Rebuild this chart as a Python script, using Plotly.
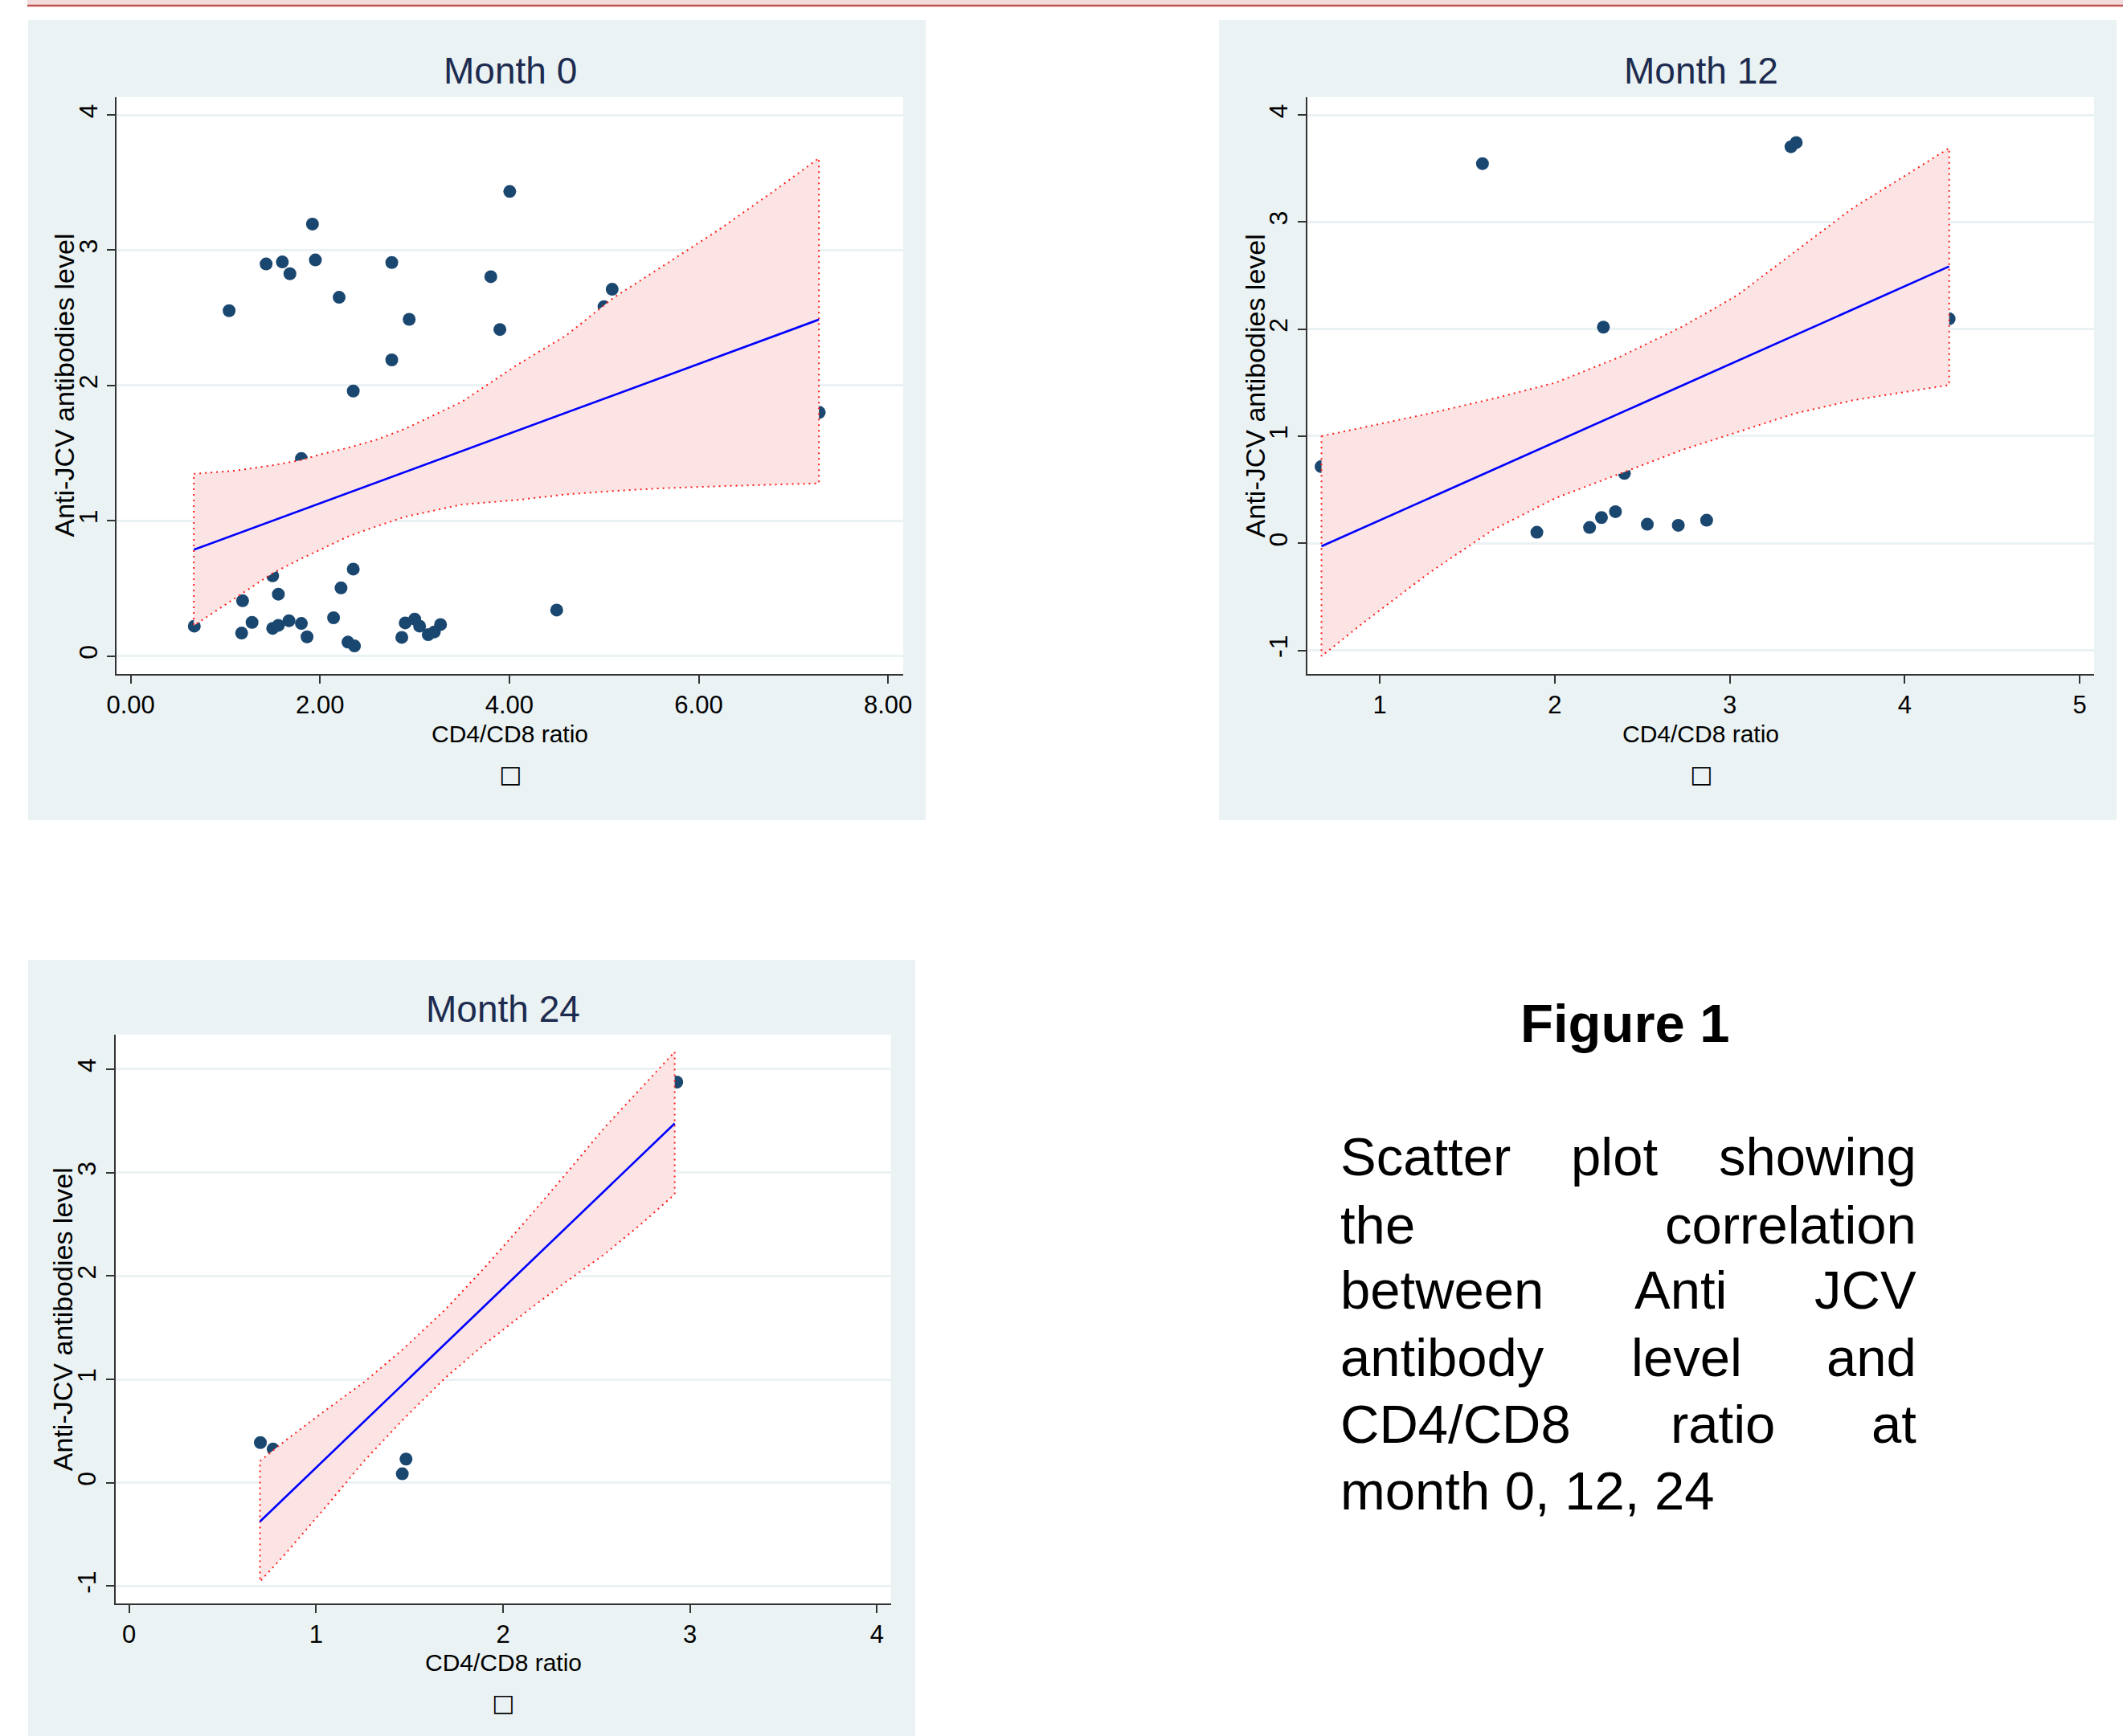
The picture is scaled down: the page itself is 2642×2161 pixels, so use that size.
import plotly.graph_objects as go

W, H = 2642, 2161

# ---------------- data ----------------
# Month 0
m0_x = [0.672, 1.172, 1.282, 1.182, 1.50, 1.56, 1.56, 1.50, 1.672, 1.803, 1.863, 1.803,
        2.143, 2.222, 2.351, 2.295, 2.364, 2.351, 2.864, 2.90, 3.00, 3.052, 3.143, 3.207,
        3.273, 4.50, 1.040, 1.431, 1.602, 1.682, 1.920, 1.951, 2.202, 2.758, 2.758, 2.942,
        3.804, 3.900, 4.004, 5.000, 5.086, 7.273]
m0_y = [0.221, 0.170, 0.249, 0.409, 0.205, 0.227, 0.457, 0.593, 0.261, 0.241, 0.142, 1.460,
        0.283, 0.504, 0.643, 0.103, 0.075, 1.959, 0.138, 0.245, 0.273, 0.221, 0.158, 0.178,
        0.233, 0.340, 2.553, 2.898, 2.913, 2.826, 3.193, 2.928, 2.652, 2.909, 2.189, 2.489,
        2.804, 2.414, 3.434, 2.583, 2.711, 1.801]
m0_fit_x = [0.667, 7.27]
m0_fit_y = [0.786, 2.487]
m0_ci_x = [0.667, 1.1, 1.5, 1.8, 2.0, 2.3, 2.6, 2.9, 3.5, 4.1, 4.6, 5.1, 5.6, 6.2, 6.8, 7.27]
m0_ci_hi = [1.347, 1.37, 1.41, 1.448, 1.49, 1.54, 1.60, 1.68, 1.88, 2.16, 2.37, 2.648, 2.873, 3.145, 3.44, 3.68]
m0_ci_lo = [0.225, 0.425, 0.613, 0.72, 0.785, 0.885, 0.96, 1.03, 1.12, 1.155, 1.195, 1.22, 1.24, 1.255, 1.268, 1.277]

# Month 12
m12_x = [0.665, 1.587, 1.898, 2.199, 2.267, 2.278, 2.347, 2.398, 2.529, 2.706, 2.868, 3.350, 3.380, 4.254]
m12_y = [0.716, 3.545, 0.103, 0.148, 0.240, 2.018, 0.295, 0.653, 0.178, 0.168, 0.215, 3.703, 3.742, 2.096]
m12_fit_x = [0.667, 4.254]
m12_fit_y = [-0.028, 2.585]
m12_ci_x = [0.667, 0.918, 1.281, 1.644, 2.006, 2.369, 2.732, 3.043, 3.373, 3.703, 4.0, 4.254]
m12_ci_hi = [1.0, 1.086, 1.211, 1.349, 1.50, 1.738, 2.025, 2.316, 2.722, 3.13, 3.43, 3.69]
m12_ci_lo = [-1.054, -0.728, -0.278, 0.123, 0.423, 0.648, 0.874, 1.04, 1.212, 1.335, 1.41, 1.478]

# Month 24
m24_x = [0.702, 0.770, 1.461, 1.481, 2.929]
m24_y = [0.388, 0.325, 0.086, 0.229, 3.875]
m24_fit_x = [0.70, 2.918]
m24_fit_y = [-0.375, 3.475]
m24_ci_x = [0.70, 0.83, 1.05, 1.26, 1.47, 1.69, 1.90, 2.12, 2.33, 2.55, 2.75, 2.918]
m24_ci_hi = [0.21, 0.40, 0.70, 0.977, 1.30, 1.673, 2.078, 2.529, 2.974, 3.45, 3.84, 4.168]
m24_ci_lo = [-0.955, -0.70, -0.237, 0.217, 0.62, 1.013, 1.338, 1.649, 1.934, 2.22, 2.52, 2.79]

# tick labels
m0_xticks = [0, 2, 4, 6, 8]
m0_xticktext = ["0.00", "2.00", "4.00", "6.00", "8.00"]
m0_yticks = [0, 1, 2, 3, 4]
m0_yticktext = ["0", "1", "2", "3", "4"]
m12_xticks = [1, 2, 3, 4, 5]
m12_yticks = [-1, 0, 1, 2, 3, 4]
m12_yticktext = ["-1", "0", "1", "2", "3", "4"]
m24_xticks = [0, 1, 2, 3, 4]
m24_yticks = [-1, 0, 1, 2, 3, 4]
m24_yticktext = ["-1", "0", "1", "2", "3", "4"]

titles = ["Month 0", "Month 12", "Month 24"]
x_title = "CD4/CD8 ratio"
y_title = "Anti-JCV antibodies level"
fig_heading = "Figure 1"
caption_lines = [
    ["Scatter", "plot", "showing"],
    ["the", "correlation"],
    ["between", "Anti", "JCV"],
    ["antibody", "level", "and"],
    ["CD4/CD8", "ratio", "at"],
    ["month 0, 12, 24"],
]

# ---------------- styling ----------------
ARIAL = "Liberation Sans, Arial, sans-serif"
PANEL_BG = "#eaf2f3"
MARKER = "#1a476f"
CI_FILL = "#fde4e4"
CI_LINE = "#ff1a1a"
FIT = "#0000ff"
AXIS = "#333333"
TITLE_C = "#1c2b4f"


def px(v):
    return v / W


def py(v):
    return 1 - v / H


fig = go.Figure()

panels = [
    (m0_x, m0_y, m0_fit_x, m0_fit_y, m0_ci_x, m0_ci_hi, m0_ci_lo, "x", "y"),
    (m12_x, m12_y, m12_fit_x, m12_fit_y, m12_ci_x, m12_ci_hi, m12_ci_lo, "x2", "y2"),
    (m24_x, m24_y, m24_fit_x, m24_fit_y, m24_ci_x, m24_ci_hi, m24_ci_lo, "x3", "y3"),
]

for (sx, sy, fx, fy, cx, chi, clo, xa, ya) in panels:
    fig.add_trace(go.Scatter(x=sx, y=sy, mode="markers", xaxis=xa, yaxis=ya,
                             marker=dict(color=MARKER, size=16, line=dict(width=0)),
                             showlegend=False, hoverinfo="skip"))
    poly_x = list(cx) + list(cx)[::-1] + [cx[0]]
    poly_y = list(chi) + list(clo)[::-1] + [chi[0]]
    fig.add_trace(go.Scatter(x=poly_x, y=poly_y, mode="lines", xaxis=xa, yaxis=ya,
                             fill="toself", fillcolor=CI_FILL,
                             line=dict(color=CI_LINE, width=2, dash="2px,5px"),
                             showlegend=False, hoverinfo="skip"))
    fig.add_trace(go.Scatter(x=fx, y=fy, mode="lines", xaxis=xa, yaxis=ya,
                             line=dict(color=FIT, width=2.6),
                             showlegend=False, hoverinfo="skip"))

xcommon = dict(showgrid=False, zeroline=False, showline=True, linecolor=AXIS, linewidth=2,
               ticks="outside", ticklen=10, tickwidth=2, tickcolor=AXIS, automargin=False,
               tickfont=dict(family=ARIAL, size=31, color="black"), ticklabelstandoff=0)
ycommon = dict(showgrid=True, gridcolor=PANEL_BG, gridwidth=3, zeroline=False, showline=True,
               linecolor=AXIS, linewidth=2, ticks="outside", ticklen=10, tickwidth=2,
               tickcolor=AXIS, tickangle=-90, automargin=False,
               tickfont=dict(family=ARIAL, size=32, color="black"), ticklabelstandoff=0)

# plot areas (pixels): left, right, top, bottom
areas = [(145.3, 1124.0, 120.8, 838.9),
         (1627.1, 2606.0, 120.8, 838.9),
         (143.6, 1108.6, 1287.7, 1996.0)]

fig.update_layout(
    xaxis=dict(xcommon, domain=[px(areas[0][0]), px(areas[0][1])], range=[-0.147, 8.16],
               tickvals=m0_xticks, ticktext=m0_xticktext, anchor="y"),
    yaxis=dict(ycommon, domain=[py(areas[0][3]), py(areas[0][2])], range=[-0.132, 4.132],
               tickvals=m0_yticks, ticktext=m0_yticktext, anchor="x"),
    xaxis2=dict(xcommon, domain=[px(areas[1][0]), px(areas[1][1])], range=[0.587, 5.082],
                tickvals=m12_xticks, anchor="y2"),
    yaxis2=dict(ycommon, domain=[py(areas[1][3]), py(areas[1][2])], range=[-1.22, 4.167],
                tickvals=m12_yticks, ticktext=m12_yticktext, anchor="x2"),
    xaxis3=dict(xcommon, domain=[px(areas[2][0]), px(areas[2][1])], range=[-0.0735, 4.074],
                tickvals=m24_xticks, anchor="y3"),
    yaxis3=dict(ycommon, domain=[py(areas[2][3]), py(areas[2][2])], range=[-1.168, 4.336],
                tickvals=m24_yticks, ticktext=m24_yticktext, anchor="x3"),
)

shapes = []
# top decorative band
shapes.append(dict(type="rect", xref="paper", yref="paper", x0=px(34), x1=1, y0=py(5.7), y1=1,
                   fillcolor="#f2dbdb", line=dict(width=0), layer="below"))
shapes.append(dict(type="rect", xref="paper", yref="paper", x0=px(34), x1=1, y0=py(8.3), y1=py(5.7),
                   fillcolor="#c0504d", line=dict(width=0), layer="below"))
# panel backgrounds
for (l, r, t, b) in [(35, 1152, 25, 1021), (1517, 2634, 25, 1021), (35, 1139, 1195, 2161)]:
    shapes.append(dict(type="rect", xref="paper", yref="paper", x0=px(l), x1=px(r), y0=py(b), y1=py(t),
                       fillcolor=PANEL_BG, line=dict(width=0), layer="below"))
for xa, ya in [("x", "y"), ("x2", "y2"), ("x3", "y3")]:
    shapes.append(dict(type="rect", xref=xa + " domain", yref=ya + " domain", x0=0, x1=1, y0=0, y1=1,
                       fillcolor="white", line=dict(width=0), layer="below"))

ann = []


def text(x, y, s, family, size, color="black", xanchor="center", angle=0, bold=False):
    if bold:
        s = "<b>" + s + "</b>"
    ann.append(dict(x=px(x), y=py(y), xref="paper", yref="paper", text=s, showarrow=False,
                    xanchor=xanchor, yanchor="middle", textangle=angle,
                    font=dict(family=family, size=size, color=color)))


# panel titles and axis titles
title_pos = [(634.7, 88), (2116.5, 88), (626.1, 1256)]
xtitle_pos = [(634.7, 913), (2116.5, 913), (626.1, 2069)]
ytitle_pos = [(79.6, 479.9), (1562.3, 479.9), (78.3, 1641.9)]
for i in range(3):
    text(title_pos[i][0], title_pos[i][1], titles[i], ARIAL, 46, TITLE_C)
    text(xtitle_pos[i][0], xtitle_pos[i][1], x_title, ARIAL, 30)
    text(xtitle_pos[i][0], xtitle_pos[i][1] + 50, "\u25a1", "DejaVu Sans", 30)
    text(ytitle_pos[i][0], ytitle_pos[i][1], y_title, ARIAL, 34, angle=-90)

# figure heading and caption
text(2022, 1273, fig_heading, ARIAL, 67, bold=True)
baselines = [1463, 1548, 1629, 1713, 1796, 1879]
left_edge, right_edge = 1665.5, 2387
mid_centers = {0: 2008.7, 2: 2091.5, 3: 2099, 4: 2143.9}
CAP = 67
for i, words in enumerate(caption_lines):
    yc = baselines[i] - 0.3465 * CAP
    text(left_edge, yc, words[0], ARIAL, CAP, xanchor="left")
    if len(words) == 2:
        text(right_edge, yc, words[1], ARIAL, CAP, xanchor="right")
    elif len(words) == 3:
        text(mid_centers[i], yc, words[1], ARIAL, CAP)
        text(right_edge, yc, words[2], ARIAL, CAP, xanchor="right")

fig.update_layout(
    width=W, height=H, autosize=False,
    margin=dict(l=0, r=0, t=0, b=0, autoexpand=False),
    paper_bgcolor="white", plot_bgcolor="rgba(0,0,0,0)",
    shapes=shapes, annotations=ann, showlegend=False,
)

fig.write_html("out.html", config={"displayModeBar": False},
               post_script="document.body.style.margin='0';document.body.style.overflow='hidden';")
